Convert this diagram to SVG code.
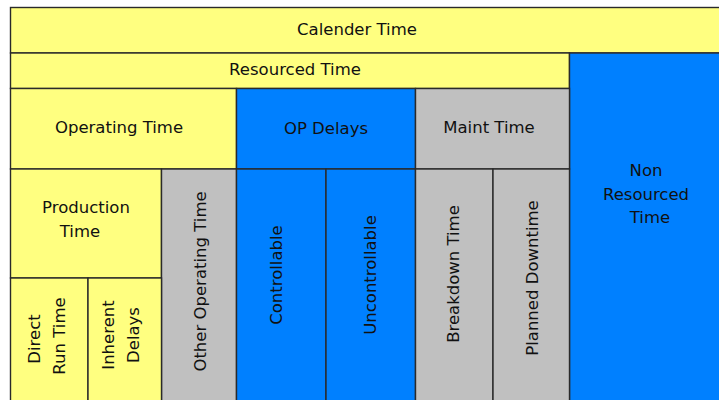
<svg xmlns="http://www.w3.org/2000/svg" width="719" height="400" viewBox="0 0 719 400">
<style>
rect{stroke:#2a2a2a;stroke-width:1.4}
.y{fill:#FFFF80}.b{fill:#0080FF}.g{fill:#C0C0C0}
text{font-family:"DejaVu Sans",sans-serif;font-size:16.5px;fill:#111;text-anchor:middle}
</style>
<rect x="0" y="0" width="719" height="400" fill="#fff" style="stroke:none"/>
<g id="calender"><rect class="y" x="10.5" y="7.5" width="712" height="45.5"/><text x="357" y="34.5">Calender Time</text></g>
<g id="resourced"><rect class="y" x="10.5" y="53" width="559" height="35.5"/><text x="295" y="75">Resourced Time</text></g>
<g id="nonresourced"><rect class="b" x="569.5" y="53" width="153" height="350"/><text x="646" y="176">Non</text><text x="646" y="199.5">Resourced</text><text x="650" y="223">Time</text></g>
<g id="operating"><rect class="y" x="10.5" y="88.5" width="226" height="80.5"/><text x="119" y="133">Operating Time</text></g>
<g id="opdelays"><rect class="b" x="236.5" y="88.5" width="179" height="80.5"/><text x="326" y="134">OP Delays</text></g>
<g id="maint"><rect class="g" x="415.5" y="88.5" width="154" height="80.5"/><text x="489" y="133">Maint Time</text></g>
<g id="production"><rect class="y" x="10.5" y="169" width="151" height="109"/><text x="86" y="213">Production</text><text x="80" y="237">Time</text></g>
<g id="otheroperating"><rect class="g" x="161.5" y="169" width="75" height="234"/><text transform="translate(206,281.5) rotate(-90)">Other Operating Time</text></g>
<g id="directrun"><rect class="y" x="10.5" y="278" width="77.5" height="125"/><text transform="translate(40,339) rotate(-90)">Direct</text><text transform="translate(65,336) rotate(-90)">Run Time</text></g>
<g id="inherent"><rect class="y" x="88" y="278" width="73.5" height="125"/><text transform="translate(114,335) rotate(-90)">Inherent</text><text transform="translate(138.5,335) rotate(-90)">Delays</text></g>
<g id="controllable"><rect class="b" x="236.5" y="169" width="89.5" height="234"/><text transform="translate(282,275) rotate(-90)">Controllable</text></g>
<g id="uncontrollable"><rect class="b" x="326" y="169" width="89.5" height="234"/><text transform="translate(376,275) rotate(-90)">Uncontrollable</text></g>
<g id="breakdown"><rect class="g" x="415.5" y="169" width="77.5" height="234"/><text transform="translate(459,274) rotate(-90)">Breakdown  Time</text></g>
<g id="planned"><rect class="g" x="493" y="169" width="76.5" height="234"/><text transform="translate(537.5,278) rotate(-90)">Planned Downtime</text></g>
<g id="connectors"></g>
</svg>
